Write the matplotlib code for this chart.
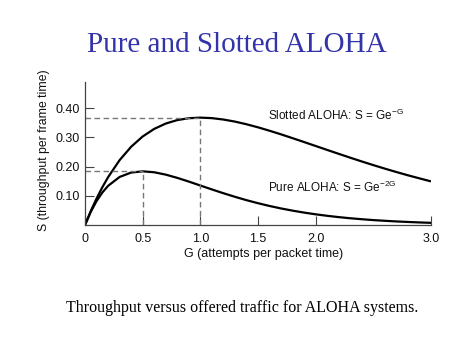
import matplotlib
matplotlib.use("Agg")
import matplotlib.pyplot as plt

# Data
G = [0.0, 0.05, 0.1, 0.15, 0.2, 0.3, 0.4, 0.5, 0.6, 0.7, 0.8, 0.9, 1.0,
     1.1, 1.2, 1.3, 1.4, 1.5, 1.6, 1.7, 1.8, 1.9, 2.0,
     2.1, 2.2, 2.3, 2.4, 2.5, 2.6, 2.7, 2.8, 2.9, 3.0]
S_slotted = [0.0, 0.0476, 0.0905, 0.1291, 0.1637, 0.2222, 0.2681, 0.3033, 0.3293,
             0.3476, 0.3595, 0.3659, 0.3679, 0.3662, 0.3614, 0.3543, 0.3452,
             0.3347, 0.3230, 0.3106, 0.2975, 0.2842, 0.2707, 0.2572, 0.2438,
             0.2306, 0.2177, 0.2052, 0.1931, 0.1815, 0.1703, 0.1598, 0.1494]
S_pure = [0.0, 0.0452, 0.0819, 0.1111, 0.1341, 0.1646, 0.1797, 0.1839, 0.1807,
          0.1726, 0.1615, 0.1488, 0.1353, 0.1219, 0.1089, 0.0966, 0.0851,
          0.0747, 0.0652, 0.0567, 0.0492, 0.0425, 0.0366, 0.0315, 0.0270,
          0.0231, 0.0198, 0.0168, 0.0144, 0.0122, 0.0104, 0.0088, 0.0074]
peak_G = [0.5, 1.0]
peak_S = [0.184, 0.368]
x_ticks = [0, 0.5, 1.0, 1.5, 2.0, 3.0]
x_tick_labels = ["0", "0.5", "1.0", "1.5", "2.0", "3.0"]
y_ticks = [0.10, 0.20, 0.30, 0.40]
y_tick_labels = ["0.10", "0.20", "0.30", "0.40"]

plt.rcParams['font.family'] = ['Liberation Sans', 'DejaVu Sans']
plt.rcParams['mathtext.fontset'] = 'custom'
plt.rcParams['mathtext.rm'] = 'Liberation Sans'
plt.rcParams['mathtext.it'] = 'Liberation Sans'
plt.rcParams['mathtext.sf'] = 'Liberation Sans'

fig = plt.figure(figsize=(4.74, 3.55), dpi=100)
ax = fig.add_axes([85/474, (355-225)/355, 346/474, 143/355])

ax.plot(G, S_slotted, color='black', lw=1.6, solid_capstyle='butt')
ax.plot(G, S_pure, color='black', lw=1.6, solid_capstyle='butt')

for g, s in zip(peak_G, peak_S):
    ax.plot([0, g], [s, s], color='#777777', lw=1.0, dashes=(4, 2.5))
    ax.plot([g, g], [0, s], color='#777777', lw=1.0, dashes=(4, 2.5))

ax.set_xlim(0, 3.0)
ax.set_ylim(0, 0.49)
ax.set_xticks(x_ticks)
ax.set_xticklabels(x_tick_labels)
ax.set_yticks(y_ticks)
ax.set_yticklabels(y_tick_labels)

for sp in ['top', 'right']:
    ax.spines[sp].set_visible(False)
for sp in ['left', 'bottom']:
    ax.spines[sp].set_color('#444444')
    ax.spines[sp].set_linewidth(0.9)

ax.tick_params(axis='both', direction='in', length=6.5, width=0.8,
               color='#444444', labelsize=9, labelcolor='#111111')
ax.tick_params(axis='x', pad=6)
ax.tick_params(axis='y', pad=4)

ax.set_xlabel("G (attempts per packet time)", fontsize=9, color='#111111')
ax.xaxis.set_label_coords((264-85)/346, -0.16)
ax.set_ylabel("S (throughput per frame time)", fontsize=8.8, color='#111111')
ax.yaxis.set_label_coords((50-85)/346, 0.524)

ax.text(1.587, 0.376, r"Slotted ALOHA: S = Ge$^{\mathrm{-G}}$", fontsize=8.5,
        va='center', ha='left', color='#111111')
ax.text(1.587, 0.128, r"Pure ALOHA: S = Ge$^{\mathrm{-2G}}$", fontsize=8.5,
        va='center', ha='left', color='#111111')

fig.text(237/474, 1 - 45/355, "Pure and Slotted ALOHA", fontsize=21,
         family='Liberation Serif', color='#3333aa', ha='center', va='center')
fig.text(242/474, 1 - 308/355, "Throughput versus offered traffic for ALOHA systems.",
         fontsize=11.5, family='Liberation Serif', color='black',
         ha='center', va='center')

fig.savefig("out.png", dpi=100)
